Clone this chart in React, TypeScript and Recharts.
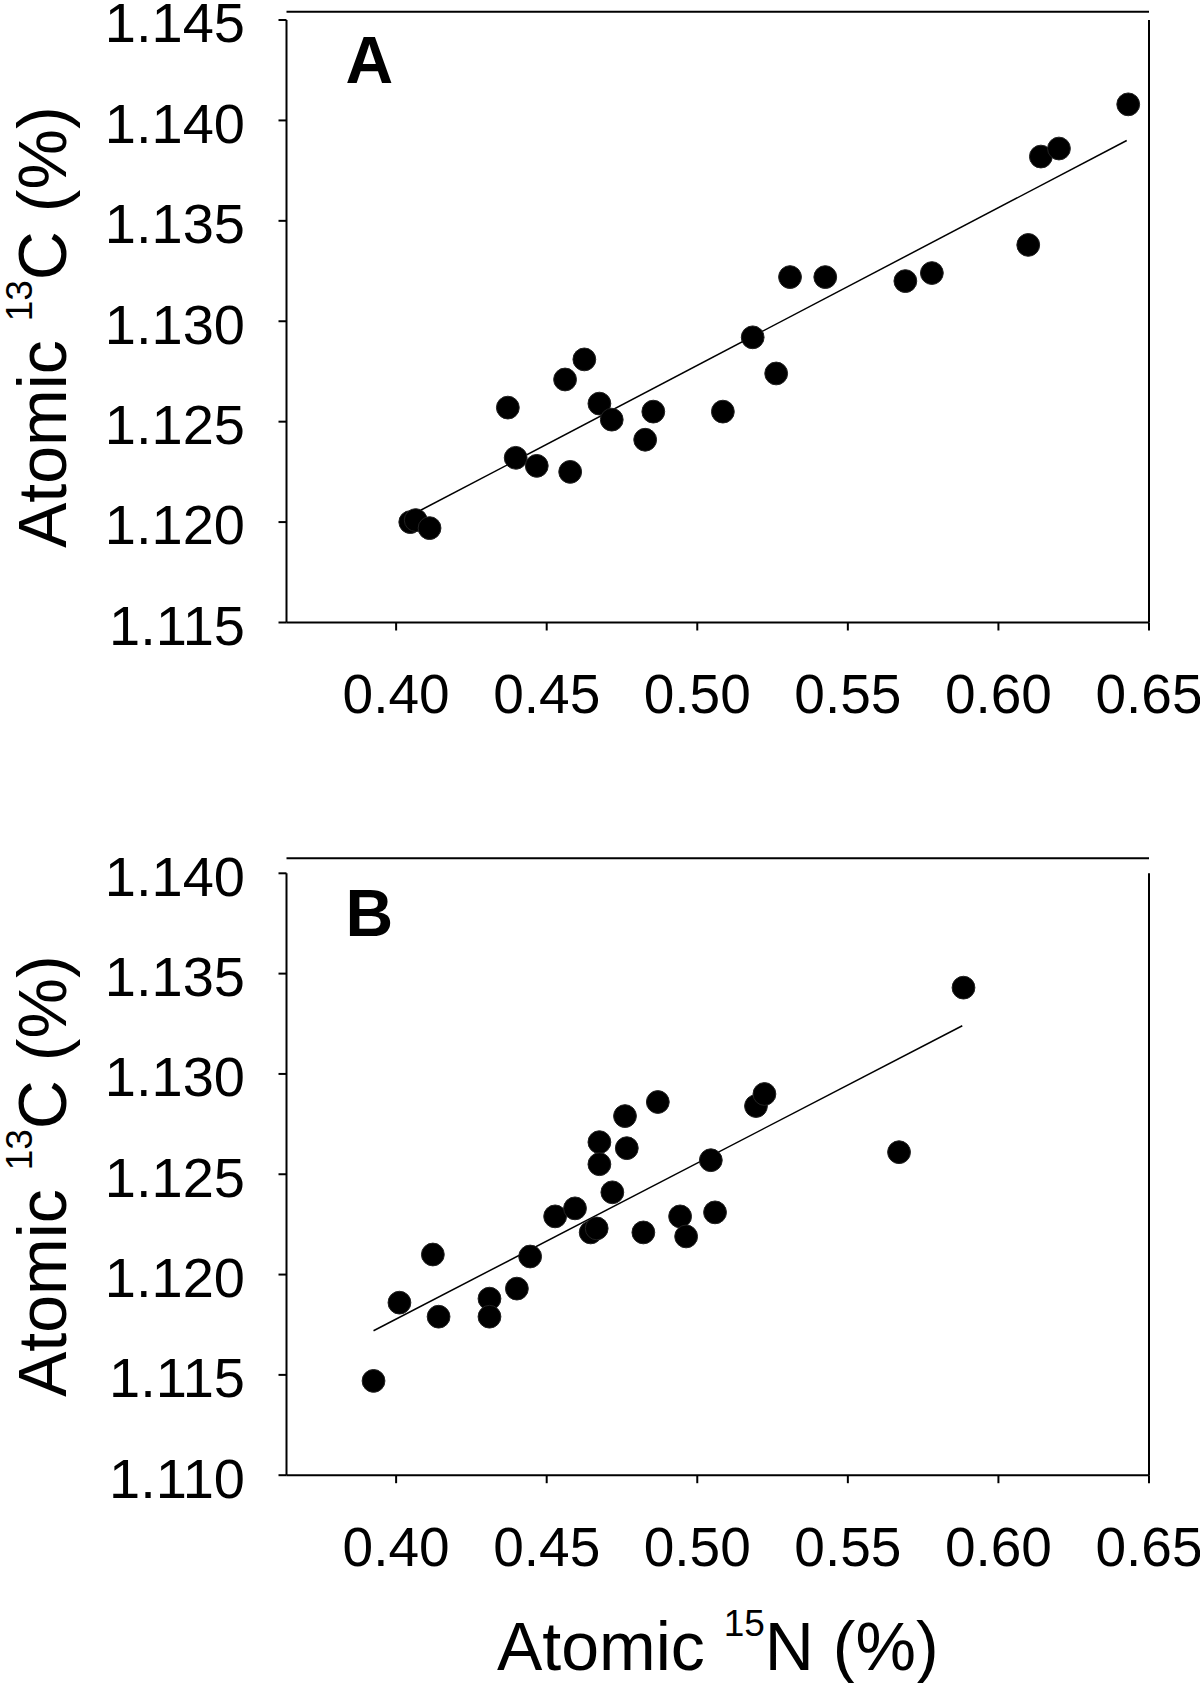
import React from 'react';
import { ScatterChart, Scatter, XAxis, YAxis, ReferenceLine } from 'recharts';

// ---- data ----
const xTicks = [0.4, 0.45, 0.5, 0.55, 0.6, 0.65];
const xDomain: [number, number] = [0.3636, 0.65];

const yTicksA = [1.115, 1.12, 1.125, 1.13, 1.135, 1.14, 1.145];
const yDomainA: [number, number] = [1.115, 1.145];
const yTicksB = [1.11, 1.115, 1.12, 1.125, 1.13, 1.135, 1.14];
const yDomainB: [number, number] = [1.11, 1.14];

// Panel A: Atomic 15N (%) vs Atomic 13C (%)
const n15A = [0.4047, 0.4065, 0.4111, 0.4371, 0.4397, 0.4467, 0.4561, 0.4578, 0.4625, 0.4675, 0.4716, 0.4827,
  0.4854, 0.5085, 0.5184, 0.5262, 0.5308, 0.5425, 0.5691, 0.5779, 0.6099, 0.6141, 0.6201, 0.6431];
const c13A = [1.12, 1.1201, 1.1197, 1.1257, 1.1232, 1.1228, 1.1271, 1.1225, 1.1281, 1.1259, 1.1251, 1.1241,
  1.1255, 1.1255, 1.1292, 1.1274, 1.1322, 1.1322, 1.132, 1.1324, 1.1338, 1.1382, 1.1386, 1.1408];
const fitA_x = [0.4083, 0.6426];
const fitA_y = [1.1206, 1.139];

// Panel B
const n15B = [0.3925, 0.4011, 0.4122, 0.4141, 0.431, 0.431, 0.4401, 0.4445, 0.4528, 0.4594, 0.4646, 0.4666,
  0.4675, 0.4675, 0.4718, 0.476, 0.4766, 0.4821, 0.4869, 0.4943, 0.4963, 0.5045, 0.5059, 0.5195, 0.5223, 0.567, 0.5884];
const c13B = [1.1147, 1.1186, 1.121, 1.1179, 1.1188, 1.1179, 1.1193, 1.1209, 1.1229, 1.1233, 1.1221, 1.1223,
  1.1266, 1.1255, 1.1241, 1.1279, 1.1263, 1.1221, 1.1286, 1.1229, 1.1219, 1.1257, 1.1231, 1.1284, 1.129, 1.1261, 1.1343];
const fitB_x = [0.3925, 0.588];
const fitB_y = [1.1172, 1.1324];

const FONT = '"Liberation Sans", Arial, Helvetica, sans-serif';

function XTick(props: any) {
  const { x, y, payload } = props;
  return (
    <text x={x} y={y + 82.6} textAnchor="middle" fontSize={55} fontFamily={FONT} fill="#000">
      {Number(payload.value).toFixed(2)}
    </text>
  );
}

function YTick(props: any) {
  const { x, y, payload } = props;
  return (
    <text x={x - 33.5} y={y + 22.4} textAnchor="end" fontSize={56} fontFamily={FONT} fill="#000">
      {Number(payload.value).toFixed(3)}
    </text>
  );
}

function Dot(props: any) {
  const { cx, cy } = props;
  return <circle cx={cx} cy={cy} r={11.4} fill="#000" stroke="#222" strokeWidth={1} />;
}

function NoDot() {
  return <g />;
}

function makeYTitle(letter: string, dyCenter: number) {
  return (props: any) => {
    const vb = props.viewBox || {};
    const cx = 65.7;
    const cy = vb.y + vb.height / 2 + dyCenter;
    const lx = vb.x + vb.width + 59;
    const ly = vb.y + 63;
    return (
      <g>
        <text
          x={cx}
          y={cy}
          transform={`rotate(-90 ${cx} ${cy})`}
          textAnchor="middle"
          fontSize={68}
          fontFamily={FONT}
          fill="#000"
        >
          <tspan>Atomic </tspan>
          <tspan dy={-34} fontSize={37}>13</tspan>
          <tspan dy={34}>C (%)</tspan>
        </text>
        <text x={lx} y={ly} fontSize={66} fontWeight="bold" fontFamily={FONT} fill="#000">
          {letter}
        </text>
      </g>
    );
  };
}

function XTitle(props: any) {
  const vb = props.viewBox || {};
  const cx = vb.x + vb.width / 2;
  const y = vb.y + 194.5;
  return (
    <text x={cx} y={y} textAnchor="middle" fontSize={68} fontFamily={FONT} fill="#000">
      <tspan>Atomic </tspan>
      <tspan dy={-34} fontSize={37}>15</tspan>
      <tspan dy={34}>N (%)</tspan>
    </text>
  );
}

type PanelProps = {
  top: number;
  height: number;
  marginTop: number;
  xAxisHeight: number;
  xs: number[];
  ys: number[];
  fx: number[];
  fy: number[];
  yDomain: [number, number];
  yTicks: number[];
  letter: string;
  topGap: number;
  titleDy: number;
  showXTitle: boolean;
};

function Panel(p: PanelProps) {
  const pts = p.xs.map((x, i) => ({ x, y: p.ys[i] }));
  const fit = p.fx.map((x, i) => ({ x, y: p.fy[i] }));
  const plotH = p.height - p.marginTop - p.xAxisHeight;
  const span = p.yDomain[1] - p.yDomain[0];
  // frame line drawn slightly above the plot area, as in the original figure
  const frameTop = p.yDomain[1] + (p.topGap / plotH) * span;
  return (
    <div style={{ position: 'absolute', left: 0, top: p.top, width: 1200, height: p.height }}>
      <ScatterChart width={1200} height={p.height} margin={{ top: p.marginTop, right: 51, bottom: 0, left: 0 }}>
        <XAxis
          xAxisId="b"
          dataKey="x"
          type="number"
          domain={xDomain}
          ticks={xTicks}
          height={p.xAxisHeight}
          tickSize={8}
          tickMargin={0}
          tick={<XTick />}
          axisLine={{ stroke: '#000', strokeWidth: 2 }}
          tickLine={{ stroke: '#000', strokeWidth: 2 }}
          allowDataOverflow
          label={p.showXTitle ? XTitle : undefined}
        />
        <YAxis
          yAxisId="l"
          dataKey="y"
          type="number"
          domain={p.yDomain}
          ticks={p.yTicks}
          width={286.5}
          tickSize={8}
          tickMargin={0}
          tick={<YTick />}
          axisLine={{ stroke: '#000', strokeWidth: 2 }}
          tickLine={{ stroke: '#000', strokeWidth: 2 }}
          allowDataOverflow
          label={makeYTitle(p.letter, p.titleDy)}
        />
        <ReferenceLine
          xAxisId="b"
          yAxisId="l"
          y={frameTop}
          ifOverflow="visible"
          stroke="#000"
          strokeWidth={2}
        />
        <ReferenceLine
          xAxisId="b"
          yAxisId="l"
          x={xDomain[1]}
          ifOverflow="visible"
          stroke="#000"
          strokeWidth={2}
        />
        <Scatter
          xAxisId="b"
          yAxisId="l"
          data={fit}
          shape={<NoDot />}
          line={{ stroke: '#000', strokeWidth: 1.5 }}
          isAnimationActive={false}
        />
        <Scatter xAxisId="b" yAxisId="l" data={pts} shape={<Dot />} isAnimationActive={false} />
      </ScatterChart>
    </div>
  );
}

export default function App() {
  return (
    <div style={{ position: 'absolute', left: 0, top: 0, width: 1200, height: 1683, background: '#fff' }}>
      <Panel
        top={0}
        height={760}
        marginTop={20}
        xAxisHeight={137.5}
        xs={n15A}
        ys={c13A}
        fx={fitA_x}
        fy={fitA_y}
        yDomain={yDomainA}
        yTicks={yTicksA}
        letter="A"
        topGap={8.3}
        titleDy={6}
        showXTitle={false}
      />
      <Panel
        top={760}
        height={923}
        marginTop={113.3}
        xAxisHeight={207.8}
        xs={n15B}
        ys={c13B}
        fx={fitB_x}
        fy={fitB_y}
        yDomain={yDomainB}
        yTicks={yTicksB}
        letter="B"
        topGap={15}
        titleDy={2}
        showXTitle={true}
      />
    </div>
  );
}
